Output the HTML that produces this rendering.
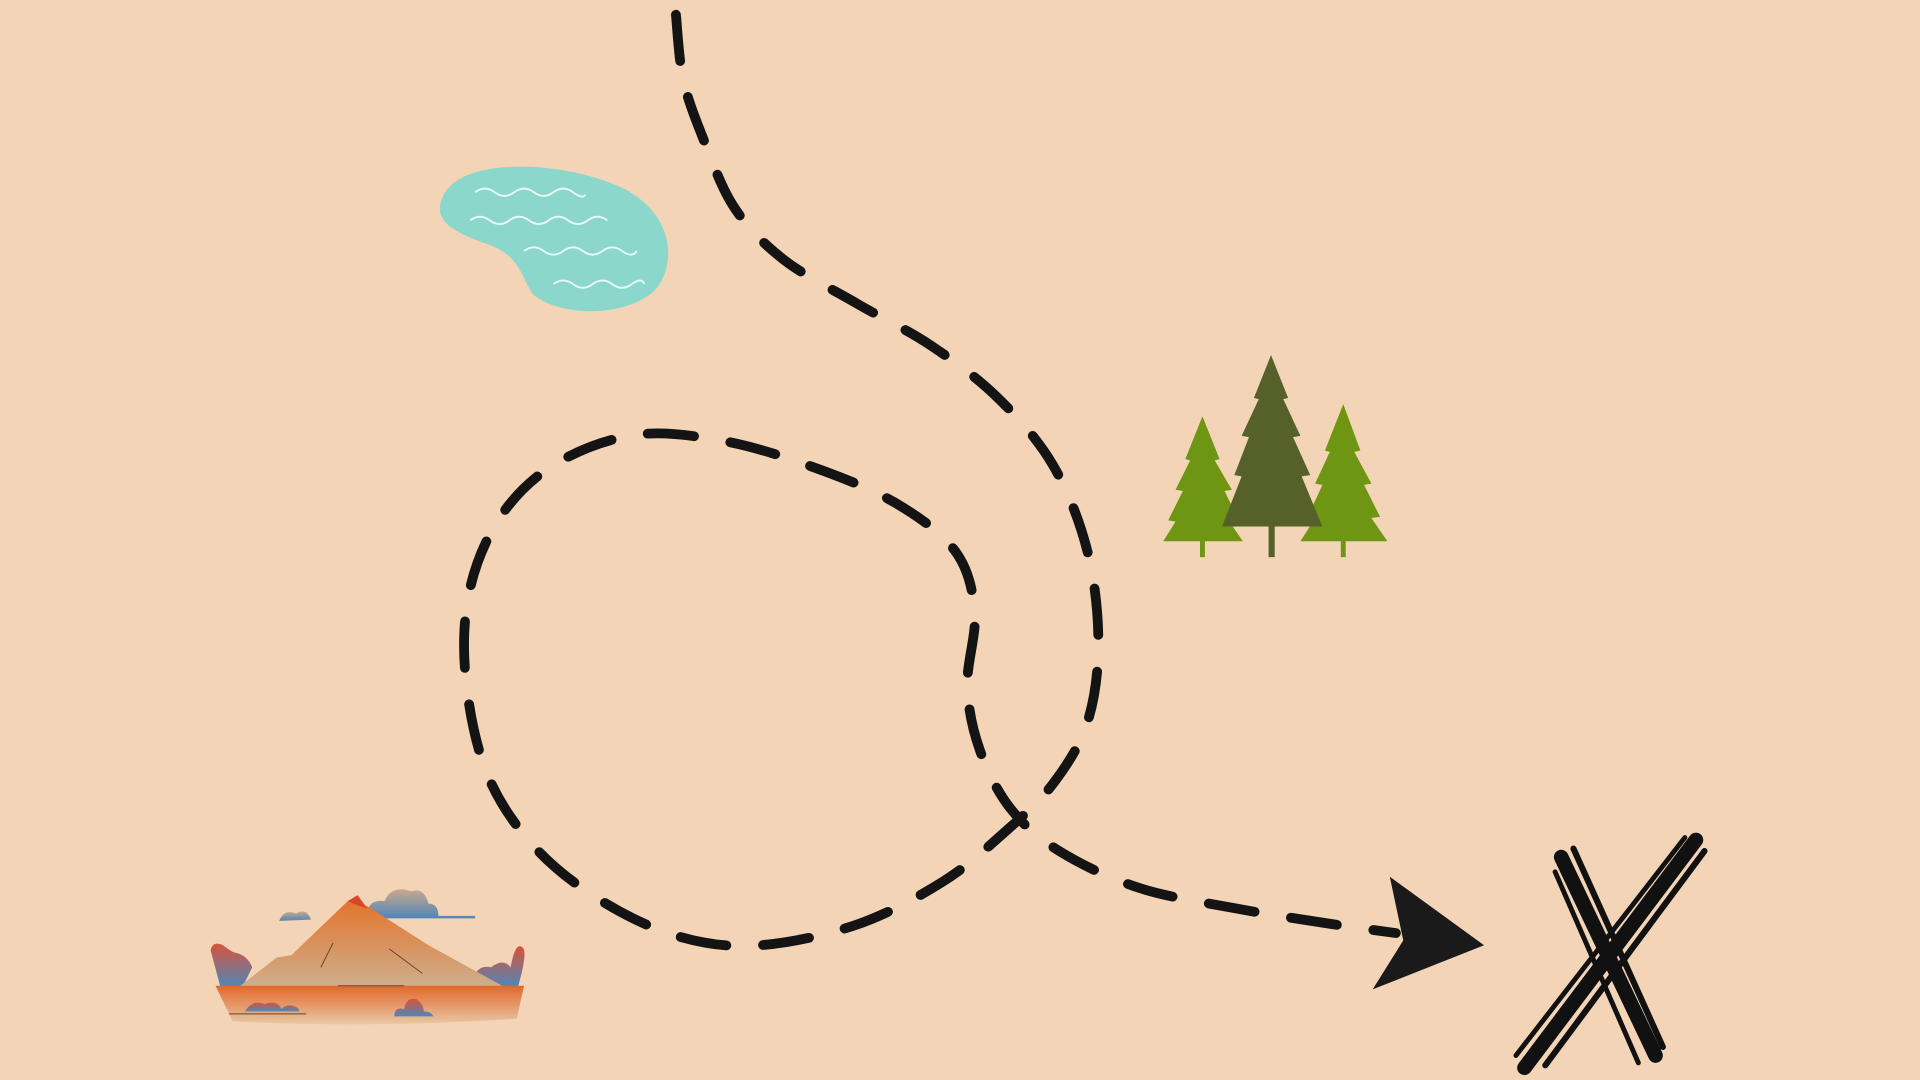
<!DOCTYPE html>
<html><head><meta charset="utf-8"><style>
html,body{margin:0;padding:0;background:#F3D4B7;}
svg{display:block}
</style></head><body>
<svg id="map" width="1920" height="1080" viewBox="0 0 1568 882" xmlns="http://www.w3.org/2000/svg">
<defs>
<linearGradient id="mtn" x1="0" y1="0" x2="0" y2="1"><stop offset="0" stop-color="#e4742c"/><stop offset="1" stop-color="#cfae8c"/></linearGradient>
<linearGradient id="gnd" x1="0" y1="0" x2="0" y2="1"><stop offset="0" stop-color="#e2682a"/><stop offset="1" stop-color="#e8c8a6"/></linearGradient>
<linearGradient id="bush" x1="0" y1="0" x2="0" y2="1"><stop offset="0" stop-color="#d9533a"/><stop offset="1" stop-color="#4f86b8"/></linearGradient>
<linearGradient id="cloud" x1="0" y1="0" x2="0" y2="1"><stop offset="0" stop-color="#c9a98c"/><stop offset="1" stop-color="#4f86b8"/></linearGradient>
</defs>
<rect width="1568" height="882" fill="#F3D4B7"/>

<g>
<path d="M362,160 C375,130 450,130 500,150 C540,165 555,200 540,230 C525,258 460,262 435,240 C425,225 425,210 400,200 C370,190 352,180 362,160 Z" fill="#8cd7cb"/>
<g fill="none" stroke="#eafaf5" stroke-width="1.5">
<path d="M388,157 q8,-6 16,0 t16,0 t16,0 t16,0 t16,0 t10,2"/>
<path d="M384,180 q8,-6 16,0 t16,0 t16,0 t16,0 t16,0 t16,0 t16,0"/>
<path d="M428,205 q8,-6 16,0 t16,0 t16,0 t16,0 t16,0 t12,0"/>
<path d="M452,232 q8,-6 16,0 t16,0 t16,0 t16,0 t10,0"/>
</g></g>

<g>
<g fill="#6f9612">
<polygon points="982,340 996,375 992,376 1006,400 1000,401 1012,425 1004,426 1015,442 950,442 960,426 954,425 966,401 960,400 972,376 968,375"/>
<rect x="980" y="440" width="4" height="15"/></g>
<g fill="#6f9612">
<polygon points="1097,330 1111,368 1106,369 1120,395 1114,396 1127,422 1120,423 1133,442 1062,442 1074,423 1068,422 1080,396 1074,395 1086,369 1082,368"/>
<rect x="1095" y="440" width="4" height="15"/></g>
<g fill="#56612a">
<polygon points="1038,290 1052,325 1048,326 1062,356 1056,357 1070,388 1063,389 1080,430 998,430 1014,389 1008,388 1020,357 1014,356 1028,326 1024,325"/>
<rect x="1036" y="428" width="5" height="27"/></g>
</g>

<g>
<path d="M228,752 q4,-10 14,-6 q8,-5 12,5 z" fill="url(#cloud)"/>
<path d="M300,748 q0,-14 14,-12 q6,-14 22,-8 q10,-4 14,10 q8,0 8,10 h30 v2 h-88 z" fill="url(#cloud)"/>
<path d="M180,806 L172,776 q2,-8 10,-4 q8,6 10,6 q10,2 14,12 l-8,16 z" fill="url(#bush)"/>
<path d="M415,806 q-20,-2 -26,-12 q4,-6 12,-4 q10,-8 16,0 q4,-22 10,-16 q4,4 -4,32 z" fill="url(#bush)"/>
<polygon points="195,806 226,782 238,780 285,735 300,740 350,772 412,806" fill="url(#mtn)"/>
<polygon points="284,736 292,731 300,742 291,739" fill="#d9452a"/>
<path d="M176,805 H428 L422,832 Q300,840 190,834 Z" fill="url(#gnd)"/>
<path d="M200,826 q6,-10 16,-6 q10,-4 14,4 q6,-6 14,0 v2 h-44 z" fill="url(#bush)"/>
<path d="M322,830 q0,-8 8,-6 q2,-10 10,-8 q6,4 6,10 q6,0 8,4 z" fill="url(#bush)"/>
<g stroke="#5a4a3a" stroke-width="0.8" fill="none"><line x1="276" y1="805" x2="330" y2="805"/><line x1="187" y1="828" x2="250" y2="828"/><line x1="262" y1="790" x2="272" y2="770"/><line x1="318" y1="775" x2="345" y2="795"/></g>
</g>

<path id="route" fill="none" stroke="#141414" stroke-width="8" stroke-linecap="round" stroke-dasharray="38 30"/>

<polygon points="1135,716 1212,772 1121,808 1146,768" fill="#1a1a1a"/>

<g stroke="#111" stroke-linecap="round" fill="none">
<path d="M1275,700 L1352,862" stroke-width="12"/>
<path d="M1285,693 L1358,855" stroke-width="5"/>
<path d="M1270,712 L1338,868" stroke-width="4"/>
<path d="M1385,686 L1245,872" stroke-width="12"/>
<path d="M1392,695 L1262,870" stroke-width="5"/>
<path d="M1376,684 L1238,862" stroke-width="4"/>
</g>
</svg>
<script>
const routeX = [552,558,575,600,640,700,760,815,860,888,897,888,860,820,770,700,620,555,490,435,397,380,384,410,455,520,590,660,730,780,796,790,800,825,865,930,1010,1090,1140];
const routeY = [12,65,115,170,212,248,282,325,380,450,525,590,640,680,720,755,772,765,735,690,630,550,480,420,378,355,360,380,410,450,500,560,612,660,695,725,742,755,762];
function catmull(xs, ys){
  let d = 'M' + xs[0] + ',' + ys[0];
  for (let i = 0; i < xs.length - 1; i++){
    const x0 = xs[Math.max(i-1,0)], y0 = ys[Math.max(i-1,0)];
    const x1 = xs[i], y1 = ys[i], x2 = xs[i+1], y2 = ys[i+1];
    const x3 = xs[Math.min(i+2,xs.length-1)], y3 = ys[Math.min(i+2,ys.length-1)];
    d += ' C' + (x1+(x2-x0)/6) + ',' + (y1+(y2-y0)/6) + ' ' + (x2-(x3-x1)/6) + ',' + (y2-(y3-y1)/6) + ' ' + x2 + ',' + y2;
  }
  return d;
}
document.getElementById('route').setAttribute('d', catmull(routeX, routeY));
</script>
</body></html>
